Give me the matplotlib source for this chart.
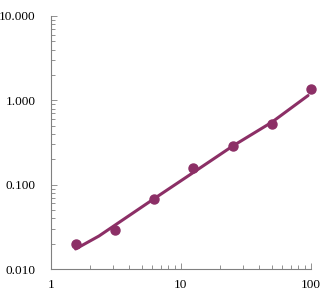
import numpy as np
import matplotlib
matplotlib.use("Agg")
import matplotlib.pyplot as plt
from matplotlib.ticker import FuncFormatter, LogLocator

# measured standards
conc = [1.5625, 3.125, 6.25, 12.5, 25, 50, 100]
od = [0.0198, 0.029, 0.068, 0.157, 0.288, 0.52, 1.35]

# fitted curve
fit_x = [1.55, 2.34, 6.2, 12.5, 25, 50, 95]
fit_y = [0.0173, 0.0246, 0.068, 0.14, 0.287, 0.55, 1.14]

COLOR = "#8c2f66"
GREY = "#808080"

plt.rcParams["font.family"] = ["Liberation Serif", "DejaVu Serif"]

fig = plt.figure(figsize=(3.28, 2.96), dpi=100)
ax = fig.add_axes([0.155, 0.091, 0.793, 0.855])

ax.plot(fit_x, fit_y, color=COLOR, lw=2.2, solid_capstyle="round")
ax.plot(conc, od, "o", color=COLOR, ms=6.5, clip_on=False, zorder=3)

ax.set_xscale("log")
ax.set_yscale("log")
ax.set_xlim(1, 100)
ax.set_ylim(0.01, 10)

ax.xaxis.set_major_locator(LogLocator(base=10))
ax.yaxis.set_major_locator(LogLocator(base=10))
ax.xaxis.set_major_formatter(FuncFormatter(lambda v, p: "%g" % v))
ax.yaxis.set_major_formatter(FuncFormatter(lambda v, p: "%.3f" % v))
ax.xaxis.set_minor_formatter(FuncFormatter(lambda v, p: ""))
ax.yaxis.set_minor_formatter(FuncFormatter(lambda v, p: ""))

for s in ["top", "right"]:
    ax.spines[s].set_visible(False)
for s in ["left", "bottom"]:
    ax.spines[s].set_color(GREY)
    ax.spines[s].set_linewidth(0.8)

ax.tick_params(which="both", direction="in", color=GREY, width=0.6,
               labelsize=9.5, labelcolor="black")
ax.tick_params(which="major", length=4)
ax.tick_params(axis="y", which="major", pad=11)
ax.tick_params(axis="x", which="major", pad=7)
ax.tick_params(which="minor", length=3)

plt.savefig("out.png", dpi=100)
plt.close()
